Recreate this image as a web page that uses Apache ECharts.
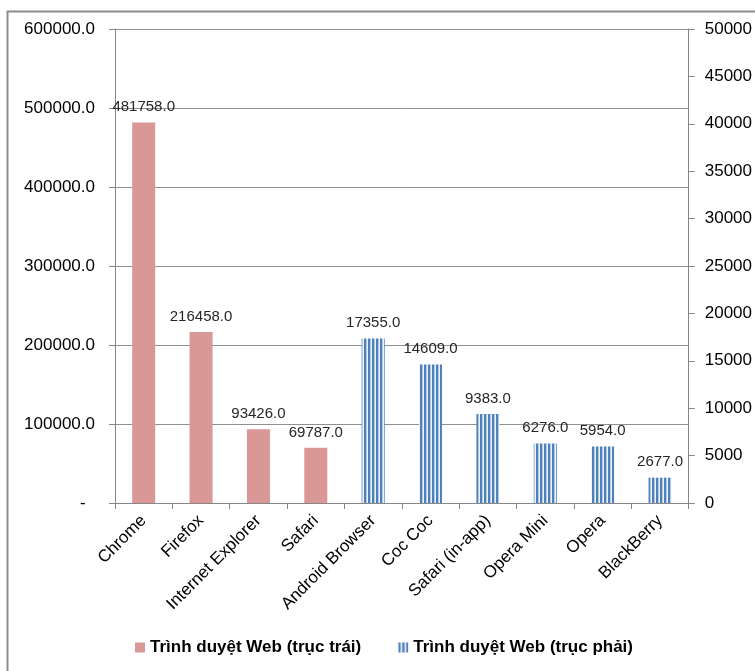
<!DOCTYPE html>
<html>
<head>
<meta charset="utf-8">
<script src="https://cdn.jsdelivr.net/npm/echarts@6/dist/echarts.min.js"></script>
<style>
html,body{margin:0;padding:0;background:#fff;}
#c{width:755px;height:671px;}
</style>
</head>
<body>
<div id="c"></div>
<script>
const categories = ['Chrome','Firefox','Internet Explorer','Safari','Android Browser','Coc Coc','Safari (in-app)','Opera Mini','Opera','BlackBerry'];
const leftValues = [481758, 216458, 93426, 69787, null, null, null, null, null, null];
const rightValues = [null, null, null, null, 17355, 14609, 9383, 6276, 5954, 2677];
const seriesNames = ['Trình duyệt Web (trục trái)', 'Trình duyệt Web (trục phải)'];

const FONT = '"Liberation Sans", Arial, sans-serif';

// stripe pattern for right-axis series
const pc = document.createElement('canvas');
pc.width = 4; pc.height = 4;
const pctx = pc.getContext('2d');
const cols = ['#4F81BD','#4F81BD','#B3C9E5','#EEF3FA'];
cols.forEach((c,i)=>{ pctx.fillStyle=c; pctx.fillRect(i,0,1,4); });

const chart = echarts.init(document.getElementById('c'), null, {renderer:'canvas'});
chart.setOption({
  animation: false,
  backgroundColor: '#fff',
  graphic: [{
    type: 'rect', left: 5, top: 9, shape: {width: 800, height: 700},
    style: {fill: 'none', stroke: '#8c8c8c', lineWidth: 2}, silent: true
  }],
  grid: {left: 115, right: 66, top: 29, bottom: 168, containLabel: false},
  legend: {
    bottom: 10, left: 130, itemGap: 37, itemWidth: 10, itemHeight: 10,
    icon: 'rect',
    textStyle: {fontFamily: FONT, fontSize: 17, fontWeight: 'bold', color: '#000'},
    data: seriesNames
  },
  xAxis: {
    type: 'category', data: categories,
    axisLine: {lineStyle: {color: '#868686', width: 1}},
    axisTick: {show: true, length: 6, lineStyle: {color: '#868686'}},
    axisLabel: {rotate: 45, margin: 15, interval: 0, fontFamily: FONT, fontSize: 17, color: '#000'}
  },
  yAxis: [{
    type: 'value', min: 0, max: 600000, interval: 100000, position: 'left',
    axisLine: {show: true, lineStyle: {color: '#868686'}},
    axisTick: {show: true, length: 6, lineStyle: {color: '#868686'}},
    splitLine: {lineStyle: {color: '#909090', width: 1}},
    axisLabel: {margin: 20, fontFamily: FONT, fontSize: 17, color: '#000',
      formatter: v => v === 0 ? '-  ' : v.toFixed(1)}
  }, {
    type: 'value', min: 0, max: 50000, interval: 5000, position: 'right',
    axisLine: {show: true, lineStyle: {color: '#868686'}},
    axisTick: {show: true, length: 6, lineStyle: {color: '#868686'}},
    splitLine: {show: false},
    axisLabel: {margin: 16, fontFamily: FONT, fontSize: 17, color: '#000',
      formatter: v => String(v)}
  }],
  series: [{
    name: seriesNames[0], type: 'bar', yAxisIndex: 0, data: leftValues,
    barWidth: 23, barGap: '-100%',
    itemStyle: {color: '#D99795'},
    label: {show: true, position: 'top', distance: 8, fontFamily: FONT, fontSize: 15, color: '#262626',
      formatter: p => p.value == null ? '' : Number(p.value).toFixed(1)}
  }, {
    name: seriesNames[1], type: 'bar', yAxisIndex: 1, data: rightValues,
    barWidth: 23, barGap: '-100%',
    itemStyle: {color: {image: pc, repeat: 'repeat'}},
    label: {show: true, position: 'top', distance: 8, fontFamily: FONT, fontSize: 15, color: '#262626',
      formatter: p => p.value == null ? '' : Number(p.value).toFixed(1)}
  }]
});
</script>
</body>
</html>
